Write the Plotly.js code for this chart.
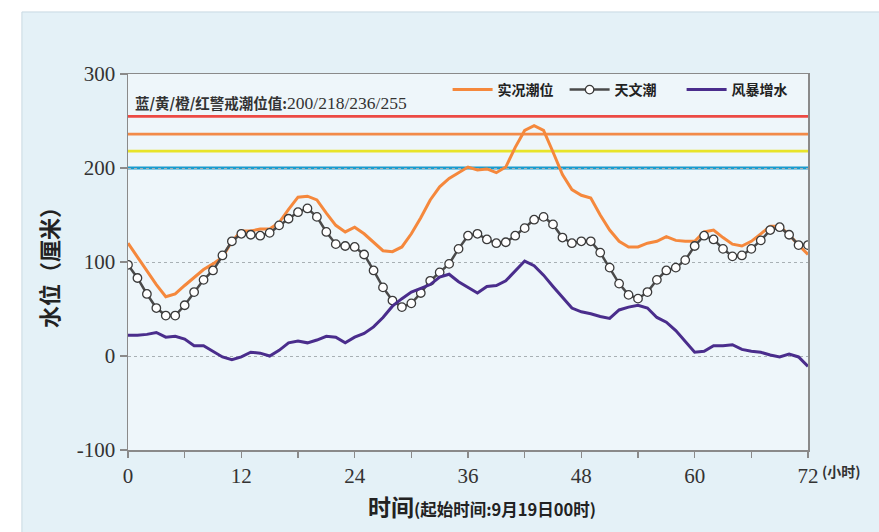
<!DOCTYPE html>
<html>
<head>
<meta charset="utf-8">
<script src="https://cdn.plot.ly/plotly-3.0.1.min.js"></script>
<style>
  html, body { margin: 0; padding: 0; background: #ffffff; }
  #chart { width: 879px; height: 532px; }
</style>
</head>
<body>
<div id="chart"></div>
<script>
// Hours since start (9月19日00时)
const hours = [0,1,2,3,4,5,6,7,8,9,10,11,12,13,14,15,16,17,18,19,20,21,22,23,24,
  25,26,27,28,29,30,31,32,33,34,35,36,37,38,39,40,41,42,43,44,45,46,47,48,
  49,50,51,52,53,54,55,56,57,58,59,60,61,62,63,64,65,66,67,68,69,70,71,72];

// 实况潮位 (cm)
const observedLevel = [120,105,90,76,63,66,75,84,92,98,105,122,133,133,
  135,135,142,156,169,170,166,152,139,132,137,130,121,112,111,
  116,130,147,166,180,189,195,201,198,199,195,201,222,240,
  245,240,217,193,177,171,168,150,134,122,116,116,120,122,
  127,123,122,122,132,134,126,119,117,122,130,138,138,129,118,108];

// 天文潮 (cm)
const astroTide = [97,83,66,51,43,43,54,68,81,91,107,122,130,129,
  128,131,139,146,153,157,148,132,119,117,116,108,91,73,59,
  52,56,67,80,89,98,114,128,130,124,120,121,128,136,
  145,148,140,126,120,122,122,110,94,77,65,61,68,81,
  91,94,102,117,128,124,114,106,107,114,123,134,137,129,118,118];

// 风暴增水 (cm)
const stormSurge = [22,22,23,25,20,21,18,11,11,5,-1,-4,-1,4,
  3,0,6,14,16,14,17,21,20,14,20,24,31,41,53,
  61,68,72,76,84,87,79,73,67,74,75,80,90,101,
  96,86,74,62,51,47,45,42,40,49,52,54,51,41,
  36,27,16,4,5,11,11,12,7,5,4,1,-1,2,-1,-11];

// 蓝/黄/橙/红 warning levels
const warnNames = ['蓝','黄','橙','红'];
const warnLevels = [200, 218, 236, 255];
const warnColors = ['#1a9bcd', '#e8e42a', '#f28a48', '#ec4a44'];

const xTickVals = [0, 12, 24, 36, 48, 60, 72];
const yTickVals = [-100, 0, 100, 200, 300];
const yTickText = ['-100', '0', '100', '200', '300'];

const serif = 'Liberation Serif, Times New Roman, serif';
const cjk = 'Noto Sans CJK SC, sans-serif';

const traces = [
  {
    x: hours, y: observedLevel, name: '实况潮位', type: 'scatter', mode: 'lines',
    line: { color: '#f5883c', width: 3 }
  },
  {
    x: hours, y: astroTide, name: '天文潮', type: 'scatter', mode: 'lines+markers',
    line: { color: '#4a4a4a', width: 2.5 },
    marker: { symbol: 'circle', size: 8.5, color: '#ffffff', line: { color: '#3a3a3a', width: 1.3 } }
  },
  {
    x: hours, y: stormSurge, name: '风暴增水', type: 'scatter', mode: 'lines',
    line: { color: '#4a2d8c', width: 3 }
  }
];

const shapes = [
  // light panel behind the whole figure
  { type: 'rect', xref: 'paper', yref: 'paper', x0: -0.156, x1: 1.11, y0: -0.23, y1: 1.165,
    fillcolor: '#e4f1f7', line: { color: '#c9d9e2', width: 1 }, layer: 'below' },
  // plotting area
  { type: 'rect', xref: 'paper', yref: 'paper', x0: 0, x1: 1, y0: 0, y1: 1,
    fillcolor: '#eef6fa', line: { width: 0 }, layer: 'below' }
];
warnLevels.forEach((lv, i) => {
  shapes.push({ type: 'line', xref: 'paper', yref: 'y', x0: 0, x1: 1, y0: lv, y1: lv,
    line: { color: warnColors[i], width: 2.8 }, layer: 'below' });
});

const warnText = '<span style="font-family:' + cjk + ';font-weight:bold;font-size:14.5px">' +
  warnNames.join('/') + '警戒潮位值:</span>' +
  '<span style="font-family:' + serif + ';font-size:17.5px">' + warnLevels.join('/') + '</span>';

const layout = {
  width: 879, height: 532,
  margin: { l: 128, r: 71, t: 74, b: 82 },
  paper_bgcolor: '#ffffff',
  plot_bgcolor: 'rgba(0,0,0,0)',
  showlegend: true,
  legend: {
    orientation: 'h', x: 0.47, xanchor: 'left', y: 1.0, yanchor: 'top',
    bgcolor: 'rgba(0,0,0,0)', borderwidth: 0,
    font: { family: cjk, size: 14, color: '#222', weight: 'bold' },
    itemwidth: 40, entrywidth: 62, entrywidthmode: 'pixels'
  },
  xaxis: {
    range: [0, 72], tickvals: xTickVals, ticks: 'outside', ticklen: 6, tickwidth: 1.5,
    tickcolor: '#8a8a8a', showline: true, linecolor: '#8a8a8a', linewidth: 1.5, mirror: true,
    showgrid: false, zeroline: false,
    minor: { dtick: 6, ticks: 'outside', ticklen: 6, tickwidth: 1.5, tickcolor: '#8a8a8a', showgrid: false },
    tickfont: { family: serif, size: 21, color: '#333' }
  },
  yaxis: {
    range: [-100, 300], tickvals: yTickVals, ticktext: yTickText, ticks: 'outside', ticklen: 7, tickwidth: 1.5,
    tickcolor: '#8a8a8a', showline: true, linecolor: '#8a8a8a', linewidth: 1.5, mirror: true,
    showgrid: true, gridcolor: '#a8b0b4', griddash: 'dot', gridwidth: 1, zeroline: false,
    tickfont: { family: serif, size: 21, color: '#333' },
    title: { text: '水位（厘米）', font: { family: cjk, size: 22, color: '#222', weight: 'bold' }, standoff: 12 }
  },
  shapes: shapes,
  annotations: [
    { xref: 'paper', yref: 'paper', x: 0.008, y: 0.925, xanchor: 'left', yanchor: 'middle',
      showarrow: false, text: warnText, font: { color: '#333' } },
    { xref: 'paper', yref: 'paper', x: 1.018, y: -0.056, xanchor: 'left', yanchor: 'middle',
      showarrow: false, text: '(小时)', font: { family: cjk, size: 14, color: '#333', weight: 'bold' } },
    { xref: 'paper', yref: 'paper', x: 0.52, y: -0.148, xanchor: 'center', yanchor: 'middle',
      showarrow: false,
      text: '<span style="font-size:23px;font-weight:bold">时间</span>' +
            '<span style="font-size:16.5px;font-weight:bold">(起始时间:9月19日00时)</span>',
      font: { family: cjk, color: '#222' } }
  ]
};

Plotly.newPlot('chart', traces, layout, { staticPlot: true, displayModeBar: false });
</script>
</body>
</html>
